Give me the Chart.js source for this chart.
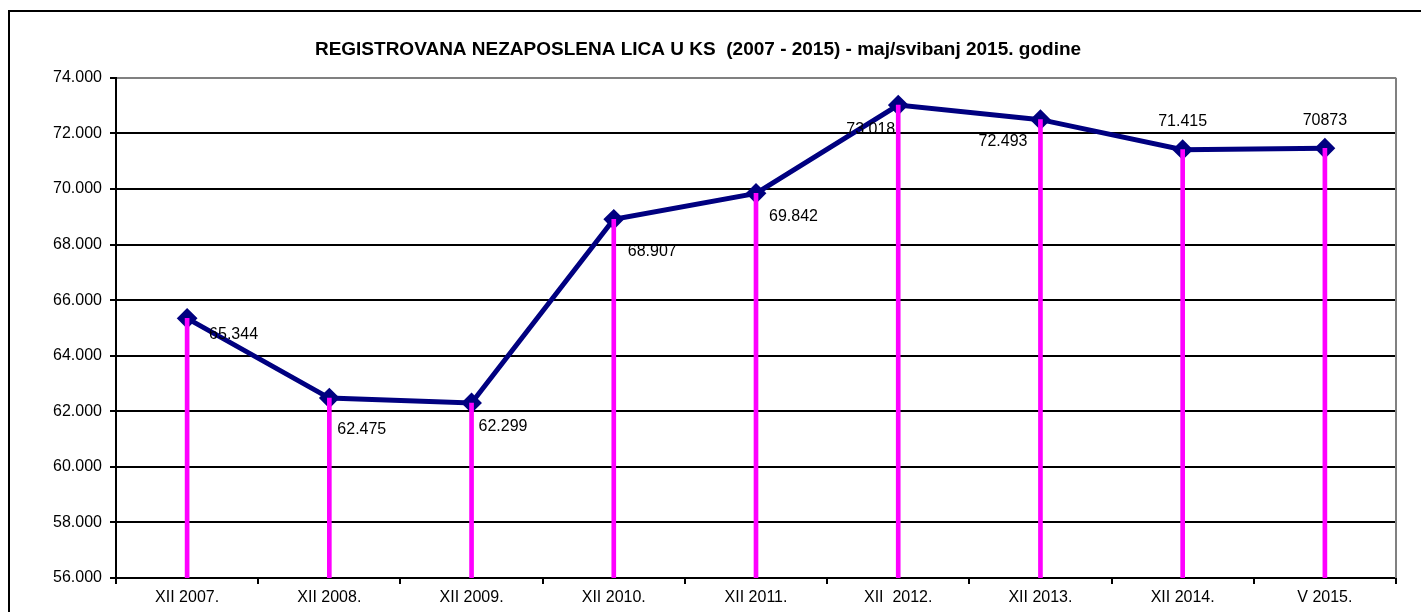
<!DOCTYPE html>
<html>
<head>
<meta charset="utf-8">
<script src="https://cdn.jsdelivr.net/npm/chart.js@4/dist/chart.umd.min.js"></script>
<style>
    html, body { margin: 0; padding: 0; background: #fff; overflow: hidden; }
    #frame {
        position: absolute; left: 8px; top: 10px; width: 1500px; height: 700px;
        border-left: 2px solid #000; border-top: 2px solid #000;
    }
    #wrap { position: absolute; left: 0; top: 0; width: 1421px; height: 612px; }
</style>
</head>
<body>
<div id="frame"></div>
<div id="wrap"><canvas id="chart"></canvas></div>
<script>
// Chart data
const categories = ['XII 2007.', 'XII 2008.', 'XII 2009.', 'XII 2010.', 'XII 2011.', 'XII  2012.', 'XII 2013.', 'XII 2014.', 'V 2015.'];
const values = [65344, 62475, 62299, 68907, 69842, 73018, 72493, 71415, 71465];
const valueLabels = ['65.344', '62.475', '62.299', '68.907', '69.842', '73.018', '72.493', '71.415', '70873'];
const yMin = 56000;
const yMax = 74000;
const yStep = 2000;

// Where each value label sits relative to its point: [align, dx, dy]
const labelPlacement = [
    ['left', 22, 16], ['left', 8, 32], ['left', 7, 24], ['left', 14, 32], ['left', 13, 23],
    ['right', -3, 25], ['right', -13, 22], ['center', 0, -28], ['center', 0, -28]
];

const FONT = '"Liberation Sans", Arial, sans-serif';

function formatThousands(v) {
    return (v / 1000).toFixed(3);
}

// Value labels next to the line points
const valueLabelPlugin = {
    id: 'valueLabels',
    afterDatasetsDraw(chart) {
        const meta = chart.getDatasetMeta(1);
        const ctx = chart.ctx;
        ctx.save();
        ctx.font = '16px ' + FONT;
        ctx.fillStyle = '#000';
        ctx.textBaseline = 'middle';
        meta.data.forEach((pt, i) => {
            const p = labelPlacement[i];
            ctx.textAlign = p[0];
            ctx.fillText(valueLabels[i], pt.x + p[1], pt.y + p[2]);
        });
        ctx.restore();
    }
};

// Grey right edge of the plot area
const plotBorderPlugin = {
    id: 'plotBorder',
    beforeDatasetsDraw(chart) {
        const a = chart.chartArea;
        const ctx = chart.ctx;
        ctx.save();
        ctx.strokeStyle = '#808080';
        ctx.lineWidth = 2;
        ctx.beginPath();
        ctx.moveTo(a.right, a.top);
        ctx.lineTo(a.right, a.bottom);
        ctx.stroke();
        ctx.restore();
    }
};

new Chart(document.getElementById('chart'), {
    type: 'bar',
    data: {
        labels: categories,
        datasets: [{
            type: 'bar',
            label: 'drop',
            data: values.map(v => [yMin, v]),
            backgroundColor: '#FF00FF',
            barThickness: 4,
            borderWidth: 0,
            order: 0
        }, {
            type: 'line',
            label: 'Nezaposleni',
            data: values,
            borderColor: '#000080',
            borderWidth: 5,
            backgroundColor: '#000080',
            pointStyle: 'rectRot',
            pointRadius: 9,
            pointBorderWidth: 2,
            pointBackgroundColor: '#000080',
            pointBorderColor: '#000080',
            tension: 0,
            order: 1
        }]
    },
    options: {
        responsive: true,
        maintainAspectRatio: false,
        animation: false,
        layout: { padding: { left: 0, right: 25, top: 0, bottom: 0 } },
        plugins: {
            legend: { display: false },
            tooltip: { enabled: false },
            title: {
                display: true,
                text: 'REGISTROVANA NEZAPOSLENA LICA U KS  (2007 - 2015) - maj/svibanj 2015. godine',
                color: '#000',
                font: { family: FONT, size: 19, weight: 'bold' },
                padding: { top: 38, bottom: 17 }
            }
        },
        scales: {
            x: {
                offset: true,
                grid: {
                    offset: true,
                    drawOnChartArea: false,
                    drawTicks: true,
                    tickLength: 6,
                    color: '#000',
                    lineWidth: 2
                },
                border: { color: '#000', width: 2 },
                ticks: {
                    color: '#000',
                    padding: 4,
                    maxRotation: 0,
                    autoSkip: false,
                    font: { family: FONT, size: 16 }
                },
                afterFit(scale) { scale.height = 34; }
            },
            y: {
                min: yMin,
                max: yMax,
                grid: {
                    color: ctx => (ctx.tick && ctx.tick.value === yMax ? '#808080' : '#000'),
                    lineWidth: 2,
                    tickLength: 6,
                    tickColor: '#000'
                },
                border: { color: '#000', width: 2 },
                ticks: {
                    stepSize: yStep,
                    color: '#000',
                    padding: 8,
                    font: { family: FONT, size: 16 },
                    callback: v => formatThousands(v)
                },
                afterFit(scale) { scale.width = 116; }
            }
        }
    },
    plugins: [valueLabelPlugin, plotBorderPlugin]
});
</script>
</body>
</html>
